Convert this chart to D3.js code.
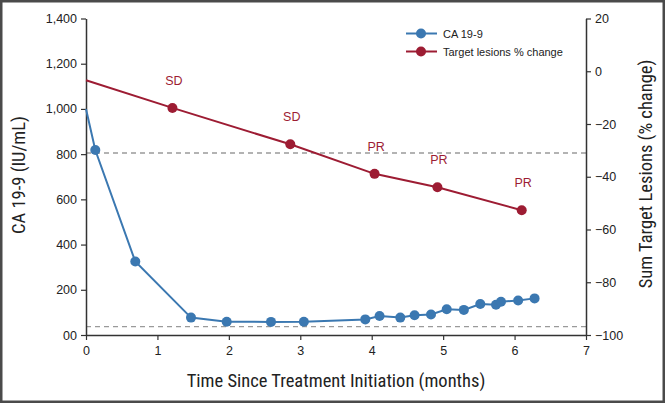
<!DOCTYPE html>
<html><head><meta charset="utf-8">
<script src="https://cdn.jsdelivr.net/npm/d3@7"></script>
<style>
html,body{margin:0;padding:0;background:#fff;}
svg{display:block;}
</style></head>
<body>
<svg id="c" width="665" height="403"></svg>
<script>
// ---- data ----
const caMonths = [0, 0.13, 0.69, 1.47, 1.97, 2.59, 3.05, 3.91, 4.11, 4.40, 4.60, 4.83, 5.05, 5.29, 5.52, 5.74, 5.81, 6.05, 6.28];
const caValues = [1000, 818, 325, 77, 59, 58, 59, 69, 84, 77, 87, 91, 114, 111, 137, 134, 147, 153, 162];
const caMarker = [false, true, true, true, true, true, true, true, true, true, true, true, true, true, true, true, true, true, true];
const tlMonths = [0, 1.21, 2.86, 4.04, 4.92, 6.10];
const tlValues = [-3.4, -13.9, -27.7, -38.9, -44.0, -52.7];
const tlMarker = [false, true, true, true, true, true];
const tlLabels = ["", "SD", "SD", "PR", "PR", "PR"];
const xTicks = [0, 1, 2, 3, 4, 5, 6, 7];
const leftTicks = [0, 200, 400, 600, 800, 1000, 1200, 1400];
const rightTicks = [-100, -80, -60, -40, -20, 0, 20];
const caNormalLimit = 37;      // left axis units
const responseLine = -31;      // right axis units
const legendLabels = ["CA 19-9", "Target lesions % change"];

const blue = "#3b78b1", red = "#9d1c33";
const svg = d3.select("#c");
const W = 665, H = 403;
const m = {l: 86, r: 79, t: 18.5, b: 68};
const x = d3.scaleLinear().domain([0, 7]).range([m.l, W - m.r]);
const yL = d3.scaleLinear().domain([0, 1400]).range([H - m.b, m.t]);
const yR = d3.scaleLinear().domain([-100, 20]).range([H - m.b, m.t]);

// frame
svg.append("rect").attr("x", 1.25).attr("y", 1.25).attr("width", W - 2.5).attr("height", H - 2.5)
  .attr("fill", "none").attr("stroke", "#4a4a4a").attr("stroke-width", 2.5);

// dashed reference lines
svg.append("line").attr("x1", x(0)).attr("x2", x(7)).attr("y1", yR(responseLine)).attr("y2", yR(responseLine))
  .attr("stroke", "#9a9a9a").attr("stroke-width", 1.3).attr("stroke-dasharray", "5,4");
svg.append("line").attr("x1", x(0)).attr("x2", x(7)).attr("y1", yL(caNormalLimit)).attr("y2", yL(caNormalLimit))
  .attr("stroke", "#9a9a9a").attr("stroke-width", 1.3).attr("stroke-dasharray", "5,4");

const tickFont = "'Liberation Sans', Arial, sans-serif";
function styleAxis(g) {
  g.select(".domain").attr("stroke", "#333").attr("stroke-width", 1.5);
  g.selectAll(".tick line").attr("stroke", "#333").attr("stroke-width", 1.2);
  g.selectAll(".tick text").attr("fill", "#222").style("font-family", tickFont).style("font-size", "12.5px");
}
const gx = svg.append("g").attr("transform", `translate(0,${H - m.b})`)
  .call(d3.axisBottom(x).tickValues(xTicks).tickSize(5).tickSizeOuter(0).tickPadding(6).tickFormat(d3.format("d")));
styleAxis(gx);
const gl = svg.append("g").attr("transform", `translate(${m.l},0)`)
  .call(d3.axisLeft(yL).tickValues(leftTicks).tickSize(5).tickSizeOuter(0).tickPadding(4)
    .tickFormat(d => d === 0 ? "00" : d3.format(",")(d)));
styleAxis(gl);
const gr = svg.append("g").attr("transform", `translate(${W - m.r},0)`)
  .call(d3.axisRight(yR).tickValues(rightTicks).tickSize(5).tickSizeOuter(0).tickPadding(4).tickFormat(d3.format("d")));
styleAxis(gr);

// CA 19-9 line
const caData = caMonths.map((d, i) => ({x: d, y: caValues[i], mk: caMarker[i]}));
svg.append("path").datum(caData)
  .attr("d", d3.line().x(d => x(d.x)).y(d => yL(d.y)))
  .attr("fill", "none").attr("stroke", blue).attr("stroke-width", 2);
svg.selectAll(".ca").data(caData.filter(d => d.mk)).join("circle")
  .attr("cx", d => x(d.x)).attr("cy", d => yL(d.y)).attr("r", 5).attr("fill", blue);

// target lesions line
const tlData = tlMonths.map((d, i) => ({x: d, y: tlValues[i], mk: tlMarker[i], lab: tlLabels[i]}));
svg.append("path").datum(tlData)
  .attr("d", d3.line().x(d => x(d.x)).y(d => yR(d.y)))
  .attr("fill", "none").attr("stroke", red).attr("stroke-width", 2);
svg.selectAll(".tl").data(tlData.filter(d => d.mk)).join("circle")
  .attr("cx", d => x(d.x)).attr("cy", d => yR(d.y)).attr("r", 5).attr("fill", red);
svg.selectAll(".tlLab").data(tlData.filter(d => d.lab)).join("text")
  .attr("x", d => x(d.x) + 1.5).attr("y", d => yR(d.y) - 23)
  .attr("text-anchor", "middle").attr("fill", red)
  .style("font-family", tickFont).style("font-size", "12.5px").text(d => d.lab);

// legend
const lg = svg.append("g");
[blue, red].forEach((c, i) => {
  const yy = 33.5 + i * 18;
  lg.append("line").attr("x1", 406).attr("x2", 437).attr("y1", yy).attr("y2", yy).attr("stroke", c).attr("stroke-width", 2);
  lg.append("circle").attr("cx", 421).attr("cy", yy).attr("r", 5).attr("fill", c);
  lg.append("text").attr("x", 443).attr("y", yy + 4).attr("fill", "#222")
    .style("font-family", tickFont).style("font-size", "11px").text(legendLabels[i]);
});

// axis titles
const titleFont = "'Liberation Sans Narrow', 'Roboto Condensed', 'DejaVu Sans Condensed', sans-serif";
svg.append("text").attr("x", 336).attr("y", 387).attr("text-anchor", "middle").attr("fill", "#222")
  .style("font-family", titleFont).style("font-size", "18.5px").text("Time Since Treatment Initiation (months)");
svg.append("text").attr("transform", "translate(25,175) rotate(-90)").attr("text-anchor", "middle").attr("fill", "#222")
  .style("font-family", titleFont).style("font-size", "18.5px").text("CA 19-9 (IU/mL)");
svg.append("text").attr("transform", "translate(652,174) rotate(-90)").attr("text-anchor", "middle").attr("fill", "#222")
  .style("font-family", titleFont).style("font-size", "18.5px").text("Sum Target Lesions (% change)");
</script>
</body></html>
